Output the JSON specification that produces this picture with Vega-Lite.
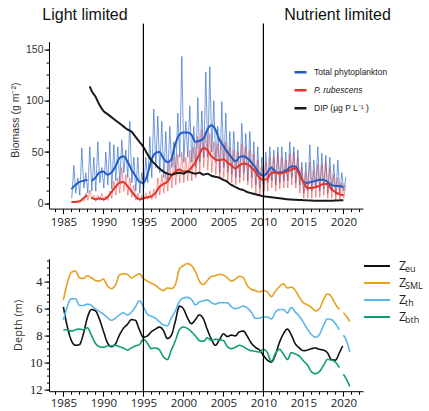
{
  "$schema": "https://vega.github.io/schema/vega-lite/v6.json",
  "padding": {"left": 10, "top": 5.6, "right": 0, "bottom": 0},
  "config": {
    "view": {"stroke": null},
    "font": "Liberation Sans",
    "axis": {"domainColor": "#000", "tickColor": "#000", "grid": false, "labelFlush": false}
  },
  "spacing": 50,
  "bounds": "flush",
  "resolve": {"scale": {"color": "independent", "strokeDash": "independent"}, "legend": {"color": "independent", "strokeDash": "independent"}},
  "datasets": {
    "thin": [
      {"year":1986.05,"total":5,"rub":0},{"year":1986.3,"total":37,"rub":2},{"year":1986.55,"total":10,"rub":1},{"year":1986.8,"total":25,"rub":3},
      {"year":1987.05,"total":8,"rub":1},{"year":1987.3,"total":54,"rub":4},{"year":1987.55,"total":15,"rub":2},{"year":1987.8,"total":30,"rub":10},
      {"year":1988.05,"total":10,"rub":3},{"year":1988.3,"total":55,"rub":13},{"year":1988.55,"total":12,"rub":4},{"year":1988.8,"total":45,"rub":8},
      {"year":1989.05,"total":12,"rub":2},{"year":1989.3,"total":60,"rub":8},{"year":1989.55,"total":20,"rub":3},{"year":1989.8,"total":35,"rub":10},
      {"year":1990.05,"total":15,"rub":2},{"year":1990.3,"total":50,"rub":7},{"year":1990.55,"total":18,"rub":3},{"year":1990.8,"total":60,"rub":12},
      {"year":1991.05,"total":14,"rub":5},{"year":1991.3,"total":57,"rub":22},{"year":1991.55,"total":22,"rub":8},{"year":1991.8,"total":55,"rub":25},
      {"year":1992.05,"total":20,"rub":10},{"year":1992.3,"total":62,"rub":35},{"year":1992.55,"total":30,"rub":12},{"year":1992.8,"total":52,"rub":28},
      {"year":1993.05,"total":25,"rub":8},{"year":1993.3,"total":80,"rub":25},{"year":1993.55,"total":20,"rub":6},{"year":1993.8,"total":45,"rub":18},
      {"year":1994.05,"total":12,"rub":3},{"year":1994.3,"total":45,"rub":10},{"year":1994.55,"total":10,"rub":2},{"year":1994.8,"total":30,"rub":8},
      {"year":1995.05,"total":15,"rub":3},{"year":1995.3,"total":45,"rub":10},{"year":1995.55,"total":20,"rub":4},{"year":1995.8,"total":65,"rub":12},
      {"year":1996.05,"total":25,"rub":4},{"year":1996.3,"total":92,"rub":14},{"year":1996.55,"total":35,"rub":5},{"year":1996.8,"total":85,"rub":25},
      {"year":1997.05,"total":30,"rub":8},{"year":1997.3,"total":80,"rub":28},{"year":1997.55,"total":25,"rub":10},{"year":1997.8,"total":70,"rub":30},
      {"year":1998.05,"total":22,"rub":12},{"year":1998.3,"total":75,"rub":40},{"year":1998.55,"total":35,"rub":15},{"year":1998.8,"total":60,"rub":45},
      {"year":1999.05,"total":30,"rub":18},{"year":1999.3,"total":88,"rub":48},{"year":1999.55,"total":45,"rub":20},{"year":1999.8,"total":143,"rub":50},
      {"year":2000.05,"total":40,"rub":20},{"year":2000.3,"total":80,"rub":45},{"year":2000.55,"total":45,"rub":22},{"year":2000.8,"total":95,"rub":52},
      {"year":2001.05,"total":40,"rub":22},{"year":2001.3,"total":75,"rub":55},{"year":2001.55,"total":35,"rub":25},{"year":2001.8,"total":103,"rub":65},
      {"year":2002.05,"total":40,"rub":30},{"year":2002.3,"total":90,"rub":72},{"year":2002.55,"total":45,"rub":35},{"year":2002.8,"total":128,"rub":70},
      {"year":2003.05,"total":45,"rub":32},{"year":2003.3,"total":133,"rub":68},{"year":2003.55,"total":50,"rub":30},{"year":2003.8,"total":100,"rub":60},
      {"year":2004.05,"total":40,"rub":28},{"year":2004.3,"total":75,"rub":58},{"year":2004.55,"total":30,"rub":25},{"year":2004.8,"total":99,"rub":62},
      {"year":2005.05,"total":35,"rub":25},{"year":2005.3,"total":88,"rub":60},{"year":2005.55,"total":30,"rub":22},{"year":2005.8,"total":70,"rub":55},
      {"year":2006.05,"total":28,"rub":20},{"year":2006.3,"total":70,"rub":52},{"year":2006.55,"total":25,"rub":18},{"year":2006.8,"total":60,"rub":50},
      {"year":2007.05,"total":25,"rub":20},{"year":2007.3,"total":78,"rub":58},{"year":2007.55,"total":30,"rub":22},{"year":2007.8,"total":68,"rub":55},
      {"year":2008.05,"total":22,"rub":18},{"year":2008.3,"total":70,"rub":52},{"year":2008.55,"total":25,"rub":15},{"year":2008.8,"total":60,"rub":48},
      {"year":2009.05,"total":18,"rub":10},{"year":2009.3,"total":55,"rub":42},{"year":2009.55,"total":15,"rub":8},{"year":2009.8,"total":45,"rub":35},
      {"year":2010.05,"total":12,"rub":8},{"year":2010.3,"total":50,"rub":40},{"year":2010.55,"total":20,"rub":12},{"year":2010.8,"total":55,"rub":45},
      {"year":2011.05,"total":22,"rub":15},{"year":2011.3,"total":52,"rub":45},{"year":2011.55,"total":18,"rub":12},{"year":2011.8,"total":55,"rub":48},
      {"year":2012.05,"total":20,"rub":14},{"year":2012.3,"total":55,"rub":45},{"year":2012.55,"total":22,"rub":15},{"year":2012.8,"total":50,"rub":42},
      {"year":2013.05,"total":22,"rub":15},{"year":2013.3,"total":60,"rub":48},{"year":2013.55,"total":25,"rub":18},{"year":2013.8,"total":55,"rub":50},
      {"year":2014.05,"total":20,"rub":15},{"year":2014.3,"total":52,"rub":45},{"year":2014.55,"total":18,"rub":10},{"year":2014.8,"total":40,"rub":35},
      {"year":2015.05,"total":10,"rub":5},{"year":2015.3,"total":40,"rub":30},{"year":2015.55,"total":12,"rub":5},{"year":2015.8,"total":57,"rub":40},
      {"year":2016.05,"total":12,"rub":5},{"year":2016.3,"total":42,"rub":32},{"year":2016.55,"total":15,"rub":6},{"year":2016.8,"total":55,"rub":38},
      {"year":2017.05,"total":12,"rub":6},{"year":2017.3,"total":49,"rub":38},{"year":2017.55,"total":14,"rub":8},{"year":2017.8,"total":47,"rub":40},
      {"year":2018.05,"total":10,"rub":5},{"year":2018.3,"total":45,"rub":35},{"year":2018.55,"total":12,"rub":5},{"year":2018.8,"total":38,"rub":28},
      {"year":2019.05,"total":8,"rub":3},{"year":2019.3,"total":42,"rub":25},{"year":2019.55,"total":10,"rub":3},{"year":2019.8,"total":30,"rub":20},
      {"year":2020.05,"total":12,"rub":5},{"year":2020.3,"total":26,"rub":18}
    ],
    "smooth": [
      {"year":1986.0,"Total":14,"Prub":1.5},
      {"year":1986.5,"Total":18,"Prub":1.5},
      {"year":1987.0,"Total":21,"Prub":2},
      {"year":1987.5,"Total":22,"Prub":5},
      {"year":1988.0,"Total":23,"Prub":8},
      {"year":1988.3,"DIP":114},
      {"year":1988.5,"Total":22,"Prub":6,"DIP":110},
      {"year":1989.0,"Total":25,"Prub":4,"DIP":104},
      {"year":1989.5,"Total":30,"Prub":5,"DIP":96},
      {"year":1990.0,"Total":31,"Prub":4,"DIP":90},
      {"year":1990.5,"Total":28,"Prub":6,"DIP":87},
      {"year":1991.0,"Total":30,"Prub":11,"DIP":84},
      {"year":1991.5,"Total":36,"Prub":16,"DIP":81},
      {"year":1992.0,"Total":44,"Prub":20,"DIP":78},
      {"year":1992.5,"Total":46,"Prub":21,"DIP":75},
      {"year":1993.0,"Total":41,"Prub":17,"DIP":72},
      {"year":1993.5,"Total":33,"Prub":12,"DIP":70},
      {"year":1994.0,"Total":27,"Prub":7,"DIP":65},
      {"year":1994.5,"Total":21,"Prub":4,"DIP":60},
      {"year":1995.0,"Total":20,"Prub":5,"DIP":55},
      {"year":1995.5,"Total":28,"Prub":6,"DIP":48},
      {"year":1996.0,"Total":42,"Prub":7,"DIP":42},
      {"year":1996.5,"Total":49,"Prub":10,"DIP":38},
      {"year":1997.0,"Total":50,"Prub":16,"DIP":34},
      {"year":1997.5,"Total":44,"Prub":19,"DIP":31},
      {"year":1998.0,"Total":40,"Prub":21,"DIP":29},
      {"year":1998.5,"Total":43,"Prub":27,"DIP":28},
      {"year":1999.0,"Total":58,"Prub":31,"DIP":29},
      {"year":1999.5,"Total":67,"Prub":33,"DIP":30},
      {"year":2000.0,"Total":69,"Prub":31,"DIP":29},
      {"year":2000.5,"Total":69,"Prub":31,"DIP":31},
      {"year":2001.0,"Total":67,"Prub":35,"DIP":30},
      {"year":2001.5,"Total":60,"Prub":40,"DIP":29},
      {"year":2002.0,"Total":61,"Prub":48,"DIP":30},
      {"year":2002.5,"Total":63,"Prub":54,"DIP":28},
      {"year":2003.0,"Total":72,"Prub":52,"DIP":29},
      {"year":2003.5,"Total":76,"Prub":46,"DIP":27},
      {"year":2004.0,"Total":72,"Prub":43,"DIP":26},
      {"year":2004.5,"Total":62,"Prub":42,"DIP":25},
      {"year":2005.0,"Total":56,"Prub":43,"DIP":23},
      {"year":2005.5,"Total":50,"Prub":40,"DIP":21},
      {"year":2006.0,"Total":45,"Prub":37,"DIP":18},
      {"year":2006.5,"Total":41,"Prub":34,"DIP":16},
      {"year":2007.0,"Total":45,"Prub":37,"DIP":14},
      {"year":2007.5,"Total":46,"Prub":39,"DIP":13},
      {"year":2008.0,"Total":44,"Prub":38,"DIP":11},
      {"year":2008.5,"Total":40,"Prub":35,"DIP":10},
      {"year":2009.0,"Total":35,"Prub":31,"DIP":9},
      {"year":2009.5,"Total":29,"Prub":25,"DIP":8},
      {"year":2010.0,"Total":27,"Prub":23,"DIP":7},
      {"year":2010.5,"Total":30,"Prub":24,"DIP":6.5},
      {"year":2011.0,"Total":35,"Prub":30,"DIP":6},
      {"year":2011.5,"Total":31,"Prub":30,"DIP":5.5},
      {"year":2012.0,"Total":30,"Prub":29,"DIP":5},
      {"year":2012.5,"Total":31,"Prub":30,"DIP":4.5},
      {"year":2013.0,"Total":33,"Prub":31,"DIP":4},
      {"year":2013.5,"Total":36,"Prub":33,"DIP":3.8},
      {"year":2014.0,"Total":36,"Prub":34,"DIP":3.5},
      {"year":2014.5,"Total":30,"Prub":28,"DIP":3.3},
      {"year":2015.0,"Total":21,"Prub":21,"DIP":3.2},
      {"year":2015.5,"Total":20,"Prub":15,"DIP":3},
      {"year":2016.0,"Total":21,"Prub":15,"DIP":2.8},
      {"year":2016.5,"Total":22,"Prub":16,"DIP":2.7},
      {"year":2017.0,"Total":23,"Prub":17,"DIP":2.6},
      {"year":2017.5,"Total":23,"Prub":19,"DIP":2.6},
      {"year":2018.0,"Total":21,"Prub":19,"DIP":2.6},
      {"year":2018.5,"Total":18,"Prub":14,"DIP":2.7},
      {"year":2019.0,"Total":17,"Prub":11,"DIP":2.8},
      {"year":2019.5,"Total":17,"Prub":9,"DIP":3},
      {"year":2020.0,"Total":16,"Prub":8,"DIP":3.2}
    ],
    "depth": [
      {"year":1985.0,"Zeu":5.9,"ZSML":5.4,"Zth":6.9,"Zbth":7.6},
      {"year":1985.5,"Zeu":7.4,"ZSML":4.1,"Zth":5.85,"Zbth":7.6},
      {"year":1986.0,"Zeu":8.4,"ZSML":3.35,"Zth":5.3,"Zbth":7.7},
      {"year":1986.5,"Zeu":8.75,"ZSML":3.25,"Zth":5.3,"Zbth":7.6},
      {"year":1987.0,"Zeu":8.7,"ZSML":3.75,"Zth":5.8,"Zbth":7.55},
      {"year":1987.5,"Zeu":7.9,"ZSML":3.8,"Zth":5.8,"Zbth":7.6},
      {"year":1988.0,"Zeu":6.7,"ZSML":3.6,"Zth":5.7,"Zbth":7.45},
      {"year":1988.5,"Zeu":6.1,"ZSML":3.75,"Zth":5.8,"Zbth":8.0},
      {"year":1989.0,"Zeu":6.2,"ZSML":3.95,"Zth":6.05,"Zbth":8.6},
      {"year":1989.5,"Zeu":6.8,"ZSML":4.0,"Zth":6.25,"Zbth":8.85},
      {"year":1990.0,"Zeu":7.7,"ZSML":3.85,"Zth":6.45,"Zbth":8.9},
      {"year":1990.5,"Zeu":8.55,"ZSML":4.35,"Zth":6.7,"Zbth":8.8},
      {"year":1991.0,"Zeu":8.85,"ZSML":4.55,"Zth":6.9,"Zbth":8.8},
      {"year":1991.5,"Zeu":8.65,"ZSML":4.3,"Zth":6.75,"Zbth":8.75},
      {"year":1992.0,"Zeu":8.0,"ZSML":3.55,"Zth":6.5,"Zbth":8.85},
      {"year":1992.5,"Zeu":7.5,"ZSML":3.45,"Zth":6.35,"Zbth":8.95},
      {"year":1993.0,"Zeu":7.2,"ZSML":3.5,"Zth":6.5,"Zbth":9.1},
      {"year":1993.5,"Zeu":6.85,"ZSML":3.75,"Zth":6.3,"Zbth":8.95},
      {"year":1994.0,"Zeu":6.9,"ZSML":3.6,"Zth":5.9,"Zbth":8.8},
      {"year":1994.5,"Zeu":7.6,"ZSML":3.45,"Zth":5.45,"Zbth":8.7},
      {"year":1995.0,"Zeu":8.15,"ZSML":3.8,"Zth":5.9,"Zbth":8.3},
      {"year":1995.5,"Zeu":8.05,"ZSML":4.0,"Zth":6.45,"Zbth":8.6},
      {"year":1996.0,"Zeu":7.75,"ZSML":4.15,"Zth":6.6,"Zbth":9.0},
      {"year":1996.5,"Zeu":7.55,"ZSML":4.3,"Zth":6.75,"Zbth":8.95},
      {"year":1997.0,"Zeu":7.4,"ZSML":4.55,"Zth":7.0,"Zbth":9.1},
      {"year":1997.5,"Zeu":7.65,"ZSML":4.7,"Zth":7.25,"Zbth":9.6},
      {"year":1998.0,"Zeu":8.25,"ZSML":4.5,"Zth":7.3,"Zbth":9.8},
      {"year":1998.5,"Zeu":8.0,"ZSML":4.55,"Zth":6.7,"Zbth":9.1},
      {"year":1999.0,"Zeu":6.95,"ZSML":4.25,"Zth":6.2,"Zbth":8.4},
      {"year":1999.5,"Zeu":5.85,"ZSML":3.1,"Zth":5.5,"Zbth":7.6},
      {"year":2000.0,"Zeu":6.05,"ZSML":2.85,"Zth":5.25,"Zbth":7.4},
      {"year":2000.5,"Zeu":6.7,"ZSML":2.7,"Zth":5.2,"Zbth":7.5},
      {"year":2001.0,"Zeu":7.15,"ZSML":2.85,"Zth":5.35,"Zbth":7.75},
      {"year":2001.5,"Zeu":6.85,"ZSML":3.3,"Zth":5.75,"Zbth":8.05},
      {"year":2002.0,"Zeu":6.5,"ZSML":4.0,"Zth":5.55,"Zbth":8.4},
      {"year":2002.5,"Zeu":6.8,"ZSML":4.25,"Zth":5.45,"Zbth":8.45},
      {"year":2003.0,"Zeu":7.6,"ZSML":3.95,"Zth":5.4,"Zbth":8.2},
      {"year":2003.5,"Zeu":8.3,"ZSML":3.65,"Zth":5.6,"Zbth":8.4},
      {"year":2004.0,"Zeu":8.75,"ZSML":3.6,"Zth":5.7,"Zbth":8.3},
      {"year":2004.5,"Zeu":8.35,"ZSML":3.5,"Zth":5.6,"Zbth":8.35},
      {"year":2005.0,"Zeu":7.9,"ZSML":3.55,"Zth":5.6,"Zbth":8.4},
      {"year":2005.5,"Zeu":8.1,"ZSML":3.75,"Zth":5.6,"Zbth":8.85},
      {"year":2006.0,"Zeu":8.0,"ZSML":4.0,"Zth":5.9,"Zbth":9.0},
      {"year":2006.5,"Zeu":8.05,"ZSML":3.85,"Zth":6.05,"Zbth":8.9},
      {"year":2007.0,"Zeu":7.75,"ZSML":3.65,"Zth":5.95,"Zbth":8.75},
      {"year":2007.5,"Zeu":7.7,"ZSML":3.75,"Zth":5.85,"Zbth":8.85},
      {"year":2008.0,"Zeu":8.1,"ZSML":4.35,"Zth":6.0,"Zbth":9.05},
      {"year":2008.5,"Zeu":8.6,"ZSML":4.6,"Zth":6.3,"Zbth":9.15},
      {"year":2009.0,"Zeu":8.9,"ZSML":4.7,"Zth":6.75,"Zbth":9.2},
      {"year":2009.5,"Zeu":9.1,"ZSML":4.8,"Zth":6.75,"Zbth":9.25},
      {"year":2010.0,"Zeu":9.5,"ZSML":4.7,"Zth":6.65,"Zbth":9.05},
      {"year":2010.5,"Zeu":9.85,"ZSML":4.8,"Zth":6.65,"Zbth":9.3},
      {"year":2011.0,"Zeu":10.0,"ZSML":5.15,"Zth":6.8,"Zbth":9.95},
      {"year":2011.5,"Zeu":9.45,"ZSML":4.75,"Zth":6.3,"Zbth":9.35},
      {"year":2012.0,"Zeu":8.55,"ZSML":4.4,"Zth":6.1,"Zbth":9.05},
      {"year":2012.5,"Zeu":7.9,"ZSML":4.2,"Zth":6.1,"Zbth":9.4},
      {"year":2013.0,"Zeu":7.55,"ZSML":4.5,"Zth":6.35,"Zbth":9.8},
      {"year":2013.5,"Zeu":8.0,"ZSML":4.45,"Zth":5.95,"Zbth":9.3},
      {"year":2014.0,"Zeu":8.65,"ZSML":4.7,"Zth":6.3,"Zbth":9.4},
      {"year":2014.5,"Zeu":8.95,"ZSML":5.2,"Zth":6.6,"Zbth":9.55},
      {"year":2015.0,"Zeu":9.15,"ZSML":5.6,"Zth":7.05,"Zbth":9.9},
      {"year":2015.5,"Zeu":9.1,"ZSML":5.75,"Zth":7.55,"Zbth":10.2},
      {"year":2016.0,"Zeu":9.0,"ZSML":5.95,"Zth":7.95,"Zbth":10.7},
      {"year":2016.5,"Zeu":8.95,"ZSML":6.2,"Zth":8.15,"Zbth":10.85},
      {"year":2017.0,"Zeu":9.05,"ZSML":6.05,"Zth":7.95,"Zbth":10.7},
      {"year":2017.5,"Zeu":9.1,"ZSML":5.4,"Zth":7.3,"Zbth":10.25},
      {"year":2018.0,"Zeu":9.3,"ZSML":4.95,"Zth":6.8,"Zbth":9.8},
      {"year":2018.5,"Zeu":9.8,"ZSML":5.15,"Zth":6.85,"Zbth":9.85},
      {"year":2019.0,"Zeu":9.85,"ZSML":5.7,"Zth":7.15,"Zbth":10.0},
      {"year":2019.5,"Zeu":9.3,"ZSML":6.1,"Zth":7.6,"Zbth":10.4},
      {"year":2019.9,"Zeu":8.8},
      {"year":2020.0,"ZSML":6.35,"Zth":8.0,"Zbth":10.9},
      {"year":2020.5,"ZSML":6.7,"Zth":8.6,"Zbth":11.4},
      {"year":2020.8,"ZSML":7.0,"Zth":9.25,"Zbth":11.8}
    ],
    "regimes": [
      {"label": "Light limited", "year": 1987.7},
      {"label": "Nutrient limited", "year": 2019.26}
    ],
    "breaks": [{"year": 1995}, {"year": 2010}]
  },
  "vconcat": [
    {
      "width": 314,
      "height": 167,
      "resolve": {"axis": {"x": "independent", "y": "independent"}},
      "layer": [
        {
          "data": {"name": "thin"},
          "mark": {"type": "line", "color": "#2a66c8", "strokeWidth": 0.9, "opacity": 0.72},
          "encoding": {
            "x": {"field": "year", "type": "quantitative",
              "scale": {"domain": [1983.2, 2022.45], "nice": false, "zero": false},
              "axis": {"orient": "bottom", "title": null, "format": "d", "labelOverlap": false,
                "values": [1985, 1990, 1995, 2000, 2005, 2010, 2015, 2020], "tickSize": 5,
                "labelFont": "Open Sans", "labelFontSize": 11.5, "labelColor": "#222", "labelPadding": 3}},
            "y": {"field": "total", "type": "quantitative",
              "scale": {"domain": [-5, 157.5], "nice": false, "zero": false},
              "axis": {"orient": "left", "title": "Biomass (g m⁻²)", "format": "d", "labelOverlap": false,
                "values": [0, 50, 100, 150], "tickSize": 5, "titleY": 78,
                "labelFont": "Liberation Sans", "labelFontSize": 10.5, "labelColor": "#333", "labelPadding": 1,
                "titleFont": "Liberation Sans", "titleFontSize": 10.5, "titleFontWeight": "normal", "titleColor": "#333", "titlePadding": 5}}
          }
        },
        {
          "data": {"name": "thin"},
          "mark": {"type": "line", "color": "#e8342b", "strokeWidth": 0.9, "opacity": 0.55},
          "encoding": {
            "x": {"field": "year", "type": "quantitative",
              "axis": {"orient": "bottom", "title": null, "labels": false, "domain": false, "tickSize": 3,
                "values": [1984,1985,1986,1987,1988,1989,1990,1991,1992,1993,1994,1995,1996,1997,1998,1999,2000,2001,2002,2003,2004,2005,2006,2007,2008,2009,2010,2011,2012,2013,2014,2015,2016,2017,2018,2019,2020,2021,2022]}},
            "y": {"field": "rub", "type": "quantitative",
              "axis": {"orient": "left", "title": null, "labels": false, "domain": false, "tickSize": 3,
                "values": [0,12.5,25,37.5,50,62.5,75,87.5,100,112.5,125,137.5,150]}}
          }
        },
        {
          "data": {"name": "smooth"},
          "transform": [{"fold": ["Total", "Prub", "DIP"], "as": ["series", "value"]}],
          "mark": {"type": "line", "strokeWidth": 2, "interpolate": "monotone"},
          "encoding": {
            "x": {"field": "year", "type": "quantitative", "axis": null},
            "y": {"field": "value", "type": "quantitative", "axis": null},
            "color": {"field": "series", "type": "nominal",
              "scale": {"domain": ["Total", "Prub", "DIP"], "range": ["#1f5cc4", "#e3342a", "#1a1a1a"]},
              "legend": {"orient": "none", "legendX": 244, "legendY": 22, "title": null,
                "symbolType": "stroke", "symbolSize": 144, "symbolStrokeWidth": 2.5, "clipHeight": 17.5,
                "labelFont": "Liberation Sans", "labelFontSize": 8.5, "labelColor": "#222", "labelOffset": 6,
                "padding": 0, "rowPadding": 0,
                "labelExpr": "datum.value === 'Total' ? 'Total phytoplankton' : datum.value === 'Prub' ? 'P. rubescens' : 'DIP  (µg P L⁻¹ )'",
                "encode": {"labels": {"update": {"fontStyle": {"signal": "datum.value === 'Prub' ? 'italic' : 'normal'"}}}}}}
          }
        },
        {
          "data": {"name": "breaks"},
          "mark": {"type": "rule", "color": "#000", "strokeWidth": 1.2},
          "encoding": {
            "x": {"field": "year", "type": "quantitative", "axis": null},
            "y": {"datum": 175, "type": "quantitative", "axis": null},
            "y2": {"datum": -54}
          }
        },
        {
          "data": {"name": "regimes"},
          "mark": {"type": "text", "font": "Liberation Sans", "fontSize": 16, "align": "center", "baseline": "alphabetic", "color": "#111"},
          "encoding": {
            "x": {"field": "year", "type": "quantitative", "axis": null},
            "y": {"datum": 179, "type": "quantitative", "axis": null},
            "text": {"field": "label"}
          }
        }
      ]
    },
    {
      "width": 314,
      "height": 132.6,
      "resolve": {"axis": {"x": "independent", "y": "independent"}},
      "layer": [
        {
          "data": {"name": "depth"},
          "transform": [{"fold": ["Zeu", "ZSML", "Zth", "Zbth"], "as": ["series", "depth"]}],
          "mark": {"type": "line", "strokeWidth": 1.6, "interpolate": "monotone"},
          "encoding": {
            "x": {"field": "year", "type": "quantitative",
              "scale": {"domain": [1983.2, 2022.45], "nice": false, "zero": false},
              "axis": {"orient": "bottom", "title": null, "format": "d", "labelOverlap": false,
                "values": [1985, 1990, 1995, 2000, 2005, 2010, 2015, 2020], "tickSize": 5,
                "labelFont": "Open Sans", "labelFontSize": 11.5, "labelColor": "#222", "labelPadding": 1}},
            "y": {"field": "depth", "type": "quantitative",
              "scale": {"domain": [2.33, 12.15], "nice": false, "zero": false, "reverse": true},
              "axis": {"orient": "left", "title": "Depth (m)", "format": "d", "labelOverlap": false,
                "values": [4, 6, 8, 10, 12], "tickSize": 5,
                "labelFont": "Liberation Serif", "labelFontSize": 12.5, "labelColor": "#222", "labelPadding": 2,
                "titleFont": "Open Sans", "titleFontSize": 11, "titleFontWeight": "normal", "titleColor": "#333", "titlePadding": 6}},
            "color": {"field": "series", "type": "nominal",
              "scale": {"domain": ["Zeu", "ZSML", "Zth", "Zbth"], "range": ["#111111", "#e6a020", "#5bb6ea", "#0f9e72"]},
              "legend": {"orient": "none", "legendX": 314, "legendY": -0.8, "title": null,
                "symbolType": "stroke", "symbolSize": 676, "symbolStrokeWidth": 2, "clipHeight": 16.2,
                "labelFont": "Open Sans", "labelFontSize": 12.5, "labelColor": "#222", "labelOffset": 8,
                "padding": 0, "rowPadding": 0, "labelExpr": "'Z'"}},
            "strokeDash": {"field": "series", "type": "nominal", "sort": ["Zeu", "ZSML", "Zth", "Zbth"],
              "scale": {"range": [[1, 0], [1, 0], [1, 0], [1, 0]]},
              "legend": {"orient": "right", "offset": 33, "title": null,
                "symbolOpacity": 0, "symbolSize": 1, "clipHeight": 16.2,
                "labelFont": "Open Sans", "labelFontSize": 9, "labelColor": "#222", "labelOffset": 0,
                "padding": 0, "rowPadding": 0,
                "labelExpr": "datum.value === 'Zeu' ? 'eu' : datum.value === 'ZSML' ? 'SML' : datum.value === 'Zth' ? 'th' : 'bth'",
                "encode": {"labels": {"update": {"dy": {"value": 2.5}}}}}}
          }
        },
        {
          "data": {"name": "breaks"},
          "mark": {"type": "rule", "color": "#000", "strokeWidth": 1.2},
          "encoding": {
            "x": {"field": "year", "type": "quantitative",
              "axis": {"orient": "bottom", "title": null, "labels": false, "domain": false, "tickSize": 3,
                "values": [1984,1985,1986,1987,1988,1989,1990,1991,1992,1993,1994,1995,1996,1997,1998,1999,2000,2001,2002,2003,2004,2005,2006,2007,2008,2009,2010,2011,2012,2013,2014,2015,2016,2017,2018,2019,2020,2021,2022]}},
            "y": {"datum": 2.33, "type": "quantitative",
              "axis": {"orient": "left", "title": null, "labels": false, "domain": false, "tickSize": 2.5,
                "values": [2.5,3,3.5,4,4.5,5,5.5,6,6.5,7,7.5,8,8.5,9,9.5,10,10.5,11,11.5,12]}},
            "y2": {"datum": 12.15}
          }
        }
      ]
    }
  ]
}
